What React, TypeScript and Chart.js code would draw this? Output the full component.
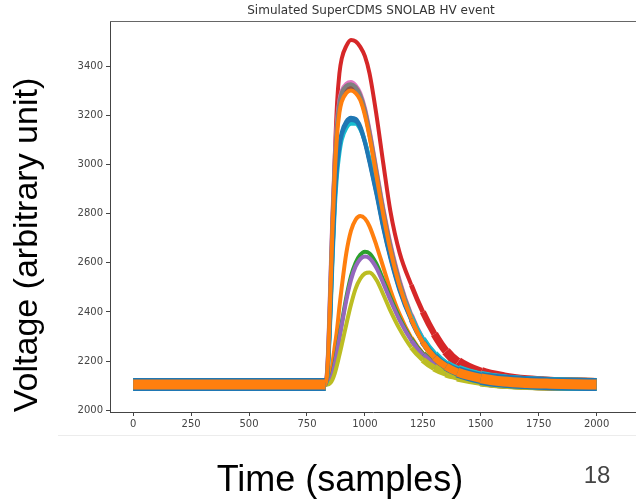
import React, { useEffect, useRef } from "react";
import { Chart, registerables } from "chart.js";

Chart.register(...registerables);

const CHART_TITLE = "Simulated SuperCDMS SNOLAB HV event";
const X_TITLE = "Time (samples)";
const Y_TITLE = "Voltage (arbitrary unit)";
const PAGE_NUMBER = "18";

const X_TICKS = [0, 250, 500, 750, 1000, 1250, 1500, 1750, 2000];
const Y_TICKS = [2000, 2200, 2400, 2600, 2800, 3000, 3200, 3400];

const TIME = [0, 830, 840, 850, 860, 870, 880, 890, 900, 920, 940, 960, 980, 1000, 1020, 1050, 1080, 1110, 1150, 1200, 1250, 1300, 1350, 1400, 1500, 1600, 1700, 1800, 1900, 2000];

const S_BLUE = [2105, 2105, 2170, 2380, 2640, 2860, 3000, 3080, 3130, 3175, 3190, 3185, 3155, 3095, 3015, 2885, 2745, 2625, 2492, 2370, 2280, 2220, 2180, 2157, 2130, 2118, 2112, 2108, 2106, 2105];
const S_ORANGE_LOW = [2105, 2105, 2112, 2130, 2190, 2260, 2330, 2420, 2500, 2640, 2730, 2775, 2790, 2780, 2748, 2670, 2580, 2490, 2390, 2295, 2230, 2188, 2162, 2147, 2126, 2115, 2110, 2107, 2106, 2105];
const S_GREEN = [2105, 2105, 2108, 2120, 2150, 2195, 2245, 2300, 2355, 2460, 2545, 2600, 2632, 2645, 2638, 2595, 2528, 2458, 2375, 2290, 2228, 2188, 2162, 2146, 2126, 2115, 2110, 2107, 2106, 2105];
const S_RED = [2105, 2105, 2180, 2400, 2720, 3030, 3250, 3370, 3430, 3482, 3506, 3500, 3478, 3440, 3370, 3200, 3000, 2810, 2640, 2510, 2400, 2310, 2240, 2195, 2150, 2128, 2116, 2110, 2107, 2105];
const S_PURPLE = [2105, 2105, 2108, 2118, 2145, 2188, 2238, 2292, 2345, 2448, 2530, 2585, 2615, 2625, 2618, 2578, 2515, 2448, 2366, 2284, 2224, 2185, 2160, 2145, 2125, 2115, 2110, 2107, 2106, 2105];
const S_BROWN = [2105, 2105, 2200, 2460, 2760, 2990, 3150, 3235, 3280, 3305, 3312, 3300, 3270, 3210, 3120, 2960, 2800, 2660, 2512, 2378, 2280, 2218, 2180, 2156, 2130, 2117, 2111, 2108, 2106, 2105];
const S_PINK = [2105, 2105, 2220, 2500, 2800, 3030, 3180, 3260, 3300, 3328, 3335, 3322, 3290, 3230, 3140, 2980, 2820, 2680, 2530, 2390, 2290, 2225, 2185, 2160, 2132, 2118, 2112, 2108, 2106, 2105];
const S_GRAY = [2105, 2105, 2210, 2480, 2780, 3010, 3165, 3250, 3292, 3320, 3326, 3314, 3282, 3222, 3132, 2972, 2812, 2672, 2522, 2385, 2286, 2222, 2183, 2158, 2131, 2118, 2112, 2108, 2106, 2105];
const S_OLIVE = [2105, 2105, 2105, 2110, 2125, 2150, 2185, 2225, 2265, 2350, 2430, 2495, 2535, 2556, 2560, 2530, 2470, 2405, 2330, 2255, 2205, 2172, 2152, 2140, 2123, 2114, 2109, 2107, 2106, 2105];
const S_CYAN = [2105, 2105, 2160, 2350, 2600, 2820, 2960, 3045, 3100, 3148, 3165, 3165, 3142, 3092, 3022, 2900, 2762, 2640, 2505, 2380, 2290, 2228, 2186, 2162, 2134, 2120, 2113, 2109, 2106, 2105];
const S_BLUE_2 = [2105, 2105, 2170, 2370, 2630, 2850, 2990, 3070, 3120, 3165, 3180, 3176, 3148, 3088, 3008, 2878, 2738, 2618, 2486, 2366, 2277, 2218, 2179, 2156, 2130, 2118, 2112, 2108, 2106, 2105];
const S_ORANGE_HIGH = [2105, 2105, 2190, 2440, 2730, 2960, 3120, 3210, 3255, 3290, 3300, 3290, 3262, 3200, 3112, 2952, 2792, 2652, 2505, 2372, 2276, 2215, 2178, 2155, 2130, 2117, 2111, 2108, 2106, 2105];

const SERIES = [S_BLUE, S_ORANGE_LOW, S_GREEN, S_RED, S_PURPLE, S_BROWN, S_PINK, S_GRAY, S_OLIVE, S_CYAN, S_BLUE_2, S_ORANGE_HIGH];
const COLORS = ["#1f77b4", "#ff7f0e", "#2ca02c", "#d62728", "#9467bd", "#8c564b", "#e377c2", "#7f7f7f", "#bcbd22", "#17becf", "#1f77b4", "#ff7f0e"];

const decorPlugin = {
  id: "decor",
  beforeDraw(chart: any) {
    const { ctx } = chart;
    ctx.save();
    ctx.strokeStyle = "#ececec";
    ctx.lineWidth = 1;
    ctx.beginPath();
    ctx.moveTo(58, 435.5);
    ctx.lineTo(636, 435.5);
    ctx.stroke();
    ctx.restore();
  },
  afterDraw(chart: any) {
    const { ctx, chartArea } = chart;
    ctx.save();
    ctx.strokeStyle = "#666";
    ctx.lineWidth = 1;
    ctx.beginPath();
    ctx.moveTo(chartArea.left, Math.round(chartArea.top) + 0.5);
    ctx.lineTo(chartArea.right, Math.round(chartArea.top) + 0.5);
    ctx.stroke();

    ctx.fillStyle = "#333";
    ctx.font = '12px "DejaVu Sans"';
    ctx.textAlign = "center";
    ctx.textBaseline = "middle";
    ctx.fillText(CHART_TITLE, 371, 11);

    ctx.fillStyle = "#000";
    ctx.font = '36px "Liberation Sans"';
    ctx.textAlign = "center";
    ctx.textBaseline = "middle";
    ctx.fillText(X_TITLE, 340, 481);

    ctx.font = '34px "Liberation Sans"';
    ctx.save();
    ctx.translate(28, 245);
    ctx.rotate(-Math.PI / 2);
    ctx.fillText(Y_TITLE, 0, 0);
    ctx.restore();

    ctx.fillStyle = "#444";
    ctx.font = '24px "Liberation Sans"';
    ctx.fillText(PAGE_NUMBER, 597, 476);
    ctx.restore();
  },
};

export default function App() {
  const ref = useRef<HTMLCanvasElement | null>(null);

  useEffect(() => {
    if (!ref.current) return;
    const datasets = SERIES.map((vals, i) => {
      const bandW = i === SERIES.length - 1 ? 10 : 13;
      const lineW = 4;
      return {
        label: `event ${i}`,
        data: TIME.map((t, k) => ({ x: t, y: vals[k] })),
        borderColor: COLORS[i],
        backgroundColor: COLORS[i],
        borderWidth: lineW,
        borderCapStyle: "butt",
        borderJoinStyle: "round",
        pointRadius: 0,
        cubicInterpolationMode: "monotone" as const,
        order: SERIES.length - 1 - i,
        segment: {
          borderWidth: (c: any) => {
            const tm = (c.p0.parsed.x + c.p1.parsed.x) / 2;
            if (tm < 830) return bandW;
            if (tm < 1200) return lineW;
            return Math.min(bandW, lineW + ((tm - 1200) / 300) * (bandW - lineW));
          },
        },
      };
    });

    const chart = new Chart(ref.current, {
      type: "line",
      data: { datasets },
      plugins: [decorPlugin],
      options: {
        animation: false,
        responsive: false,
        devicePixelRatio: 1,
        layout: { padding: { top: 21, left: 0, right: 0, bottom: 0 } },
        plugins: { legend: { display: false }, tooltip: { enabled: false }, title: { display: false } },
        scales: {
          x: {
            type: "linear",
            min: -100,
            max: 2170,
            afterBuildTicks: (s: any) => {
              s.ticks = X_TICKS.map((v) => ({ value: v }));
            },
            afterFit: (s: any) => {
              s.height = 92;
            },
            ticks: {
              font: { family: "DejaVu Sans", size: 10 },
              color: "#444",
              padding: 2,
              maxRotation: 0,
              autoSkip: false,
              callback: (v: any) => String(v),
            },
            grid: { drawOnChartArea: false, drawTicks: true, tickLength: 4, tickColor: "#444" },
            border: { display: true, color: "#444", width: 1 },
          },
          y: {
            type: "linear",
            min: 1993,
            max: 3583,
            afterBuildTicks: (s: any) => {
              s.ticks = Y_TICKS.map((v) => ({ value: v }));
            },
            afterFit: (s: any) => {
              s.width = 110;
            },
            ticks: {
              font: { family: "DejaVu Sans", size: 10 },
              color: "#444",
              padding: 3,
              autoSkip: false,
              callback: (v: any) => String(v),
            },
            grid: { drawOnChartArea: false, drawTicks: true, tickLength: 4, tickColor: "#444" },
            border: { display: true, color: "#444", width: 1 },
          },
        },
      },
    } as any);
    return () => chart.destroy();
  }, []);

  return (
    <div style={{ position: "fixed", left: 0, top: 0, width: 636, height: 504, background: "#fff" }}>
      <canvas ref={ref} width={636} height={504} style={{ display: "block" }} />
    </div>
  );
}
